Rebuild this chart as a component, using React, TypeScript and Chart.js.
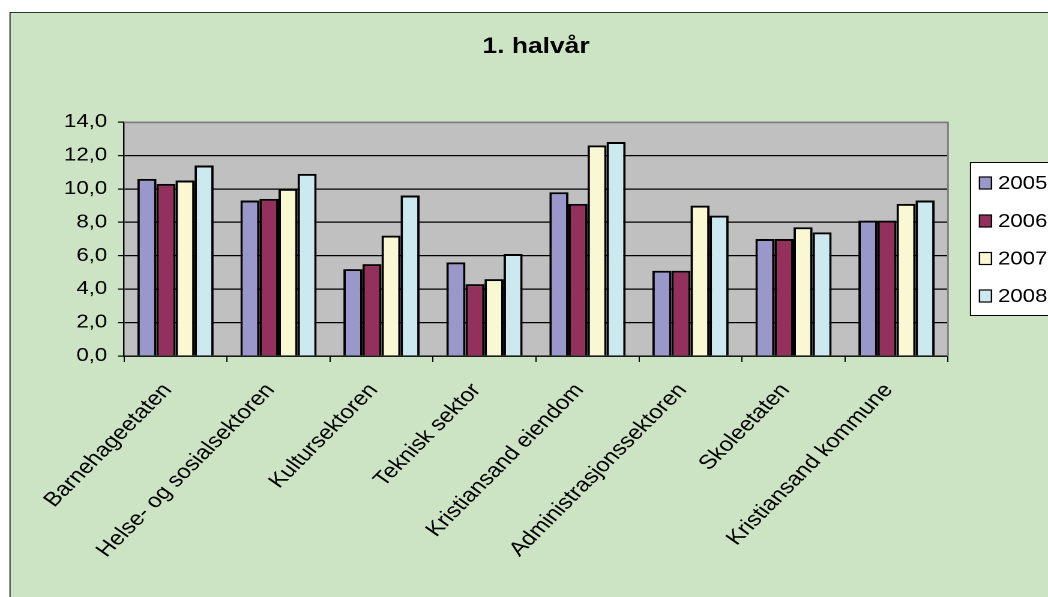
import React, { useEffect, useRef } from "react";
import { Chart, registerables } from "chart.js";

Chart.register(...registerables);

const categories = [
  "Barnehageetaten",
  "Helse- og sosialsektoren",
  "Kultursektoren",
  "Teknisk sektor",
  "Kristiansand eiendom",
  "Administrasjonssektoren",
  "Skoleetaten",
  "Kristiansand kommune",
];
const seriesNames = ["2005", "2006", "2007", "2008"];
const values2005 = [10.6, 9.3, 5.2, 5.6, 9.8, 5.1, 7.0, 8.1];
const values2006 = [10.3, 9.4, 5.5, 4.3, 9.1, 5.1, 7.0, 8.1];
const values2007 = [10.5, 10.0, 7.2, 4.6, 12.6, 9.0, 7.7, 9.1];
const values2008 = [11.4, 10.9, 9.6, 6.1, 12.8, 8.4, 7.4, 9.3];
const seriesColors = ["#9A97CB", "#93305C", "#FAF8D2", "#CDE9F0"];
const chartTitle = "1. halvår";

const W = 873;
const H = 597;
const S = 1048 / W;
const FONT = "'Liberation Sans', Arial, sans-serif";

const framePlugin = {
  id: "frame",
  beforeDraw(chart: any) {
    const ctx = chart.ctx;
    const { left, top, right, bottom } = chart.chartArea;
    ctx.save();
    ctx.fillStyle = "#CCE4C4";
    ctx.fillRect(10 / S, 12, W, H);
    ctx.strokeStyle = "#303030";
    ctx.lineWidth = 1;
    ctx.beginPath();
    ctx.moveTo(10 / S, H);
    ctx.lineTo(10 / S, 12.5);
    ctx.lineTo(W, 12.5);
    ctx.stroke();
    ctx.fillStyle = "#C0C0C0";
    ctx.fillRect(left, top, right - left, bottom - top);
    ctx.restore();
  },
  beforeDatasetsDraw(chart: any) {
    const ctx = chart.ctx;
    const { left, top, right, bottom } = chart.chartArea;
    ctx.save();
    ctx.strokeStyle = "#808080";
    ctx.lineWidth = 1.5;
    ctx.beginPath();
    ctx.moveTo(left, top + 0.5);
    ctx.lineTo(right, top + 0.5);
    ctx.lineTo(right, bottom);
    ctx.stroke();
    ctx.restore();
  },
  afterDraw(chart: any) {
    const ctx = chart.ctx;
    ctx.save();
    const bx = 970.5 / S;
    const by = 162.5;
    const bh = 153;
    ctx.fillStyle = "#FFFFFF";
    ctx.fillRect(bx, by, W - bx + 5, bh);
    ctx.strokeStyle = "#000";
    ctx.lineWidth = 1;
    ctx.strokeRect(bx, by, W - bx + 5, bh);
    const centers = [183, 221, 258.5, 296];
    chart.data.datasets.forEach((ds: any, i: number) => {
      const cy = centers[i];
      const mx = 979.5 / S;
      const mw = 12 / S;
      const mh = 12;
      ctx.fillStyle = ds.backgroundColor;
      ctx.fillRect(mx, cy - mh / 2, mw, mh);
      ctx.strokeStyle = "#000";
      ctx.lineWidth = 1.2;
      ctx.strokeRect(mx, cy - mh / 2, mw, mh);
      ctx.fillStyle = "#000";
      ctx.font = `18.5px ${FONT}`;
      ctx.textBaseline = "middle";
      ctx.textAlign = "left";
      ctx.fillText(ds.label, 998 / S, cy + 1);
    });
    ctx.restore();
  },
};

export default function App() {
  const ref = useRef<HTMLCanvasElement>(null);
  useEffect(() => {
    if (!ref.current) return;
    const allValues = [values2005, values2006, values2007, values2008];
    const chart = new Chart(ref.current, {
      type: "bar",
      data: {
        labels: categories,
        datasets: seriesNames.map((name, i) => ({
          label: name,
          data: allValues[i],
          backgroundColor: seriesColors[i],
          borderColor: "#000",
          borderWidth: 2,
          barPercentage: 1,
          categoryPercentage: 0.74,
        })),
      },
      options: {
        responsive: false,
        devicePixelRatio: 2,
        animation: false,
        layout: { padding: { left: 0, right: W - 948 / S, top: 0, bottom: 0 } },
        plugins: {
          legend: { display: false },
          tooltip: { enabled: false },
          title: {
            display: true,
            text: chartTitle,
            color: "#000",
            fullSize: false,
            font: { family: FONT, size: 22, weight: "bold", lineHeight: 1.2 },
            padding: { top: 33.8, bottom: 61.8 },
          },
        },
        scales: {
          x: {
            grid: {
              display: true,
              drawOnChartArea: false,
              drawTicks: true,
              tickLength: 6,
              color: "#000",
              offset: true,
            },
            border: { color: "#000", width: 1.2 },
            ticks: {
              color: "#000",
              font: { family: FONT, size: 20 },
              autoSkip: false,
              maxRotation: 50,
              minRotation: 50,
              padding: 17,
              labelOffset: -8 / S,
            },
            afterFit: (s: any) => {
              s.height = H - 356;
            },
          },
          y: {
            min: 0,
            max: 14,
            ticks: {
              stepSize: 2,
              color: "#000",
              font: { family: FONT, size: 18.5 },
              padding: 9,
              callback: (v: any) => Number(v).toFixed(1).replace(".", ","),
            },
            grid: {
              color: (c: any) => (c.tick && c.tick.value === 14 ? "#808080" : "#000"),
              tickColor: "#000",
              tickLength: 5,
              lineWidth: 1.2,
            },
            border: { color: "#000", width: 1.2 },
            afterFit: (s: any) => {
              s.width = 124 / S;
            },
          },
        },
      },
      plugins: [framePlugin],
    });
    return () => chart.destroy();
  }, []);
  return (
    <div
      style={{
        position: "fixed",
        left: 0,
        top: 0,
        width: W,
        height: H,
        transform: `scaleX(${S})`,
        transformOrigin: "0 0",
      }}
    >
      <canvas ref={ref} width={W} height={H} />
    </div>
  );
}
